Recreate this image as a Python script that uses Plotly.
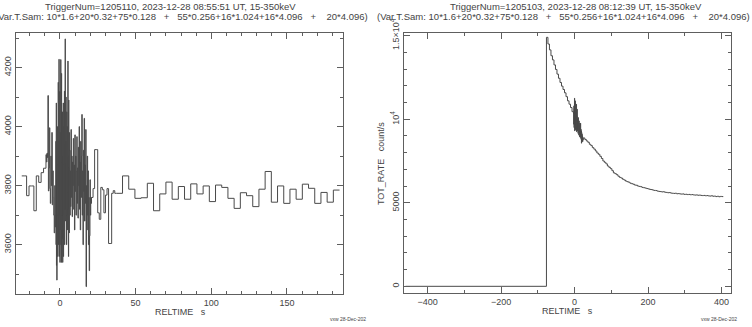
import numpy as np
import plotly.graph_objects as go

# ---------------- Left panel: TriggerNum=1205110 ----------------
left_t0 = -25.2
left_counts = [10, 20, 75, 55, 16, 16, 20]
left_durations = [1.6, 0.32, 0.128, 0.256, 1.024, 4.096, 4.096]

left_pre_16 = [3833, 3833, 3766, 3799, 3799, 3715, 3833, 3811, 3844, 3859]
left_032 = [3905, 3880, 3910, 3895, 4105, 3782, 3860, 3996, 3790, 3740,
            3900, 3800, 3980, 3735, 3850, 3760, 3700, 3640, 3800, 3660]
left_0128 = [3700, 3950, 3600, 4080, 3530, 3900, 3480, 3820, 3650, 4000, 3560, 3870, 3700, 4150, 3600, 3950, 3750,
             4228, 3560, 3900, 3700, 4119, 3540, 3980, 3650, 3850, 4227, 3600, 3930, 3540, 4180, 3700, 3880, 3620, 4050, 3750,
             3540, 3900, 3700, 4080, 3560, 4000, 3650, 3870, 3760, 4120, 3600, 3940, 3720, 4297, 3680, 3950, 3800, 4100, 3720,
             3880, 3600, 4050, 3700, 3950, 3650, 4000, 3780, 4222, 3720, 3900, 3560, 4090, 3750, 3860, 3640, 3980, 3800, 3920, 3700]
left_0256 = [3850, 3729, 3990, 3760, 3900, 3695, 3880, 3800, 3960, 3720,
             3870, 3650, 3972, 3780, 3900, 3700, 3850, 3966, 3740, 3860,
             3690, 3930, 3800, 4000, 3720, 3880, 3650, 3950, 3760, 3900,
             4041, 3700, 3850, 3600, 3920, 3780, 4028, 3680, 3870, 3740,
             3990, 3458, 3800, 3650, 3900, 3700, 3850, 3600, 3760, 3512,
             3630, 3820, 3700, 3760, 3740]
left_1024 = [3760, 3790, 3922, 3922, 3708, 3686, 3794, 3786, 3708, 3768,
             3790, 3604, 3604, 3774, 3783, 3774]
left_4096 = [3774, 3833, 3788, 3757, 3759, 3808, 3715, 3772, 3812, 3754,
             3797, 3754, 3806, 3772, 3799, 3746, 3802, 3794, 3757, 3723,
             3776, 3766, 3729, 3788, 3848, 3744, 3799, 3740, 3788, 3754,
             3805, 3791, 3740, 3777, 3744, 3785]

# ---------------- Right panel: TriggerNum=1205103 ----------------
right_flat_start = -460.0
right_rise_t = -76.5
right_flat_value = [0]
right_bin_slow = 4.096
right_bin_fast = 0.512
right_decay_pre = [14900, 14500, 14150, 13800, 13550, 13250, 12980, 12700, 12450,
                   12200, 11980, 11780, 11580, 11350, 11100, 10900, 10700, 10450]
right_burst = [10300, 9700, 10800, 9500, 10600,
               11257, 9300, 10900, 9600, 11100, 9400,
               10700, 9350, 10400, 9700, 10900, 9250,
               10200, 9500, 10600, 9300, 10000, 9600,
               9800, 9150, 10100, 9400, 9700, 9050,
               9900, 9200, 9600, 8950, 9760, 9300,
               9500, 8900, 9760, 9100, 9400, 8800,
               9300, 8563, 9200, 8800, 9100, 8700,
               9000, 8650, 8900, 8750, 8850]
right_decay_post = [8880, 8790, 8700, 8620, 8500, 8420, 8300, 8210, 8100, 7980,
                    7900, 7780, 7650, 7500, 7420, 7330, 7200, 7120, 7040, 6920,
                    6790, 6740, 6680, 6590, 6520, 6480, 6410, 6360, 6300, 6260,
                    6230, 6170, 6140, 6110, 6060, 6050, 6000, 5980, 5960, 5920,
                    5900, 5880, 5850, 5830, 5800, 5790, 5760, 5740, 5730, 5700,
                    5680, 5670, 5650, 5660, 5630, 5620, 5600, 5610, 5580, 5570,
                    5560, 5570, 5540, 5550, 5530, 5520, 5530, 5500, 5510, 5490,
                    5500, 5480, 5490, 5470, 5460, 5470, 5450, 5460, 5440, 5430,
                    5440, 5420, 5430, 5410, 5400, 5420, 5390, 5400, 5370, 5390,
                    5360, 5380, 5370]

left_title1 = "TriggerNum=1205110, 2023-12-28 08:55:51 UT, 15-350keV"
right_title1 = "TriggerNum=1205103, 2023-12-28 08:12:39 UT, 15-350keV"
sam_text = ("(Var.T.Sam: 10*1.6+20*0.32+75*0.128\u00a0\u00a0\u00a0+\u00a0\u00a0\u00a055*0.256+16*1.024+16*4.096"
            "\u00a0\u00a0\u00a0+\u00a0\u00a0\u00a0\u00a020*4.096)")
x_title = "RELTIME\u00a0\u00a0\u00a0s"
right_y_title = "TOT_RATE\u00a0\u00a0\u00a0count/s"
stamp = "vxw 28-Dec-202"

# tick steps (major, minor) and label aliases
left_x_dtick, left_x_minor = 50, 10
left_y_dtick, left_y_minor = 200, 100
right_x_dtick, right_x_minor = 200, 100
right_y_dtick, right_y_minor = 5000, 1000
right_y_alias = {"10000": "10<sup>4</sup>", "15000": "1.5\u00d710<sup>4</sup>"}

# ---------- build step traces ----------
widths = np.repeat(left_durations, left_counts)
left_vals = left_pre_16 + left_032 + left_0128 + left_0256 + left_1024 + left_4096
left_edges = left_t0 + np.concatenate([[0], np.cumsum(widths)])
lx = list(left_edges)
ly = left_vals + [left_vals[-1]]

r_pre_edges = right_rise_t + right_bin_slow * np.arange(len(right_decay_pre))
burst_start = right_rise_t + right_bin_slow * len(right_decay_pre)
r_burst_edges = burst_start + right_bin_fast * np.arange(len(right_burst))
post_start = burst_start + right_bin_fast * len(right_burst)
r_post_edges = post_start + right_bin_slow * np.arange(len(right_decay_post))
end_t = post_start + right_bin_slow * len(right_decay_post)
rx = [right_flat_start] + list(r_pre_edges) + list(r_burst_edges) + list(r_post_edges) + [end_t]
ry = right_flat_value + right_decay_pre + right_burst + right_decay_post + [right_decay_post[-1]]

W, H = 752, 327
LINE = "#4a4a4a"
AX = "#5e5e5e"
TXT = "#444444"
FONT = "Liberation Sans"

fig = go.Figure()
fig.add_trace(go.Scatter(x=lx, y=ly, mode="lines", line=dict(shape="hv", color=LINE, width=1),
                         xaxis="x", yaxis="y", hoverinfo="skip"))
fig.add_trace(go.Scatter(x=rx, y=ry, mode="lines", line=dict(shape="hv", color=LINE, width=1),
                         xaxis="x2", yaxis="y2", hoverinfo="skip"))


def ax(dtick, minor_dtick, **kw):
    d = dict(showline=True, mirror="ticks", linecolor=AX, linewidth=1,
             tickmode="linear", tick0=0, dtick=dtick,
             ticks="inside", ticklen=6, tickcolor=AX, tickwidth=1,
             showgrid=False, zeroline=False,
             tickfont=dict(family=FONT, size=9, color=TXT),
             minor=dict(ticks="inside", ticklen=3, dtick=minor_dtick, tick0=0,
                        tickcolor=AX, tickwidth=1))
    d.update(kw)
    return d

fig.update_layout(
    width=W, height=H, autosize=False,
    margin=dict(l=0, r=0, t=0, b=0, pad=0, autoexpand=False),
    paper_bgcolor="white", plot_bgcolor="white", showlegend=False,
    xaxis=ax(left_x_dtick, left_x_minor, domain=[16 / W, 343 / W], range=[-29, 187], anchor="y"),
    yaxis=ax(left_y_dtick, left_y_minor, domain=[1 - 294 / H, 1 - 33 / H], range=[3433, 4317],
             anchor="x", tickangle=-90),
    xaxis2=ax(right_x_dtick, right_x_minor, domain=[403.7 / W, 730.7 / W], range=[-465, 425],
              anchor="y2"),
    yaxis2=ax(right_y_dtick, right_y_minor, domain=[1 - 293 / H, 1 - 33 / H], range=[-400, 15160],
              anchor="x2", tickangle=-90, tickformat="d", labelalias=right_y_alias),
)


def ann(text, xpx, ypx, size=9, angle=0, xanchor="center"):
    fig.add_annotation(text=text, x=xpx / W, y=1 - ypx / H, xref="paper", yref="paper",
                       showarrow=False, xanchor=xanchor, yanchor="middle", textangle=angle,
                       borderpad=0, font=dict(family=FONT, size=size, color=TXT))

ann(left_title1, 170, 6, size=9.5)
ann(right_title1, 576, 6, size=9.5)
ann(sam_text, 181, 17, size=9.5)
ann(sam_text, 563.5, 17, size=9.5)
ann(x_title, 180, 312)
ann(x_title, 567, 311)
ann(right_y_title, 381, 164, angle=-90)
ann(stamp, 347.5, 319, size=5)
ann(stamp, 718.5, 319, size=5)

fig.write_html("out.html", config={"displayModeBar": False},
               post_script="document.body.style.margin='0';document.body.style.overflow='hidden';")
